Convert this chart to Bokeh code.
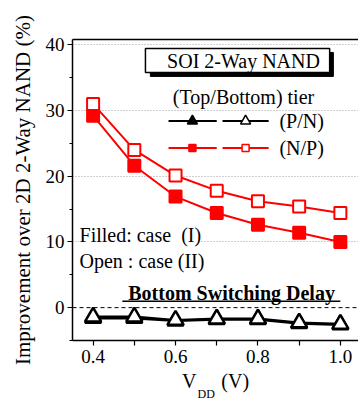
from bokeh.plotting import figure
from bokeh.models import (FixedTicker, Span, Label, LinearAxis, Range1d,
                          PrintfTickFormatter, Title)
from bokeh.embed import file_html
from bokeh.resources import INLINE

# ---- data ----
vdd = [0.4, 0.5, 0.6, 0.7, 0.8, 0.9, 1.0]
np_case1 = [29.2, 21.6, 16.9, 14.4, 12.6, 11.4, 10.0]   # (N/P) filled
np_case2 = [31.0, 24.0, 20.1, 17.8, 16.2, 15.4, 14.4]   # (N/P) open
pn_case1 = [-1.6, -1.6, -2.0, -1.8, -1.8, -2.4, -2.6]   # (P/N) filled
pn_case2 = [-1.4, -1.4, -1.9, -1.7, -1.7, -2.3, -2.5]   # (P/N) open
x_ticks = [0.4, 0.6, 0.8, 1.0]
x_minor = [0.5, 0.7, 0.9]
y_ticks = [0, 10, 20, 30, 40]
y_minor = [-5, 5, 15, 25, 35]

FONT = "Liberation Serif"
RED = "#ff0000"
NB = "\u00a0"

p = figure(width=358, height=401, output_backend="svg", toolbar_location=None,
           x_range=Range1d(0.35, 1.044), y_range=Range1d(-5, 40.8),
           min_border_left=72, min_border_right=0, min_border_top=39,
           min_border_bottom=61)
p.outline_line_color = None
p.background_fill_color = "white"
p.border_fill_color = "white"

# axes
for ax in (p.xaxis[0], p.yaxis[0]):
    ax.axis_line_color = "black"
    ax.axis_line_width = 1.5
    ax.major_tick_line_color = "black"
    ax.minor_tick_line_color = "black"
    ax.major_tick_line_width = 1.2
    ax.minor_tick_line_width = 1.2
    ax.major_tick_in = 0
    ax.minor_tick_in = 0
    ax.major_label_text_font = FONT
    ax.major_label_text_font_size = "19px"
    ax.major_label_text_color = "black"

p.xaxis.ticker = FixedTicker(ticks=x_ticks, minor_ticks=x_minor)
p.xaxis.formatter = PrintfTickFormatter(format="%.1f")
p.xaxis.major_tick_out = 5
p.xaxis.minor_tick_out = 5
p.xaxis.major_label_standoff = 4
p.xaxis.axis_label = "V" + NB * 5 + "(V)"
p.xaxis.axis_label_text_font = FONT
p.xaxis.axis_label_text_font_size = "20px"
p.xaxis.axis_label_text_font_style = "normal"
p.xaxis.axis_label_text_color = "black"
p.xaxis.axis_label_standoff = 4

p.yaxis.ticker = FixedTicker(ticks=y_ticks, minor_ticks=y_minor)
p.yaxis.major_tick_out = 5
p.yaxis.minor_tick_out = 3
p.yaxis.major_label_standoff = 3
p.yaxis.axis_label = "Improvement over 2D 2-Way NAND (%)"
p.yaxis.axis_label_text_font = FONT
p.yaxis.axis_label_text_font_size = "21px"
p.yaxis.axis_label_text_font_style = "normal"
p.yaxis.axis_label_text_color = "black"
p.yaxis.axis_label_standoff = 8

# subscript of V_DD
p.add_layout(Title(text="DD", align="left", offset=125, standoff=-16,
                   vertical_align="top", text_font=FONT,
                   text_font_size="12px", text_font_style="normal",
                   text_color="black"), "below")

# top frame line
top = LinearAxis(ticker=FixedTicker(ticks=[]), major_label_text_font_size="0px",
                 major_tick_out=0, minor_tick_out=0, axis_line_width=1.5)
p.add_layout(top, "above")

# grid
p.xgrid.grid_line_color = None
p.ygrid.ticker = FixedTicker(ticks=[10, 20, 30, 40])
p.ygrid.grid_line_color = "#a0a0a0"
p.ygrid.grid_line_dash = "1 2"
p.ygrid.grid_line_width = 1

p.add_layout(Span(location=0, dimension="width", line_color="black",
                  line_dash="4 3", line_width=1))

# series
p.line(vdd, pn_case1, line_color="black", line_width=2.5)
p.line(vdd, pn_case2, line_color="black", line_width=2.5)
p.scatter(vdd, pn_case1, marker="triangle", size=16, fill_color="black",
          line_color="black", line_width=2.5)
p.scatter(vdd, pn_case2, marker="triangle", size=16, fill_color="white",
          line_color="black", line_width=2.5)

p.line(vdd, np_case1, line_color=RED, line_width=2)
p.line(vdd, np_case2, line_color=RED, line_width=2)
p.scatter(vdd, np_case1, marker="square", size=12, fill_color=RED,
          line_color=RED, line_width=2)
p.scatter(vdd, np_case2, marker="square", size=12, fill_color="white",
          line_color=RED, line_width=2)

# title box with shadow
p.quad(left=[0.539], right=[0.983], top=[38.83], bottom=[35.18],
       fill_color="black", line_color="black")
p.quad(left=[0.527], right=[0.974], top=[39.43], bottom=[35.79],
       fill_color="white", line_color="black", line_width=1.5)
p.add_layout(Label(x=0.765, y=37.5, text="SOI 2-Way NAND", text_font=FONT,
                   text_font_size="20px", text_align="center",
                   text_baseline="middle", text_color="black"))

p.add_layout(Label(x=0.765, y=32.0, text="(Top/Bottom) tier", text_font=FONT,
                   text_font_size="20px", text_align="center",
                   text_baseline="middle", text_color="black"))

# legend rows
p.line([0.583, 0.700], [28.4, 28.4], line_color="black", line_width=2)
p.line([0.714, 0.826], [28.4, 28.4], line_color="black", line_width=2)
p.scatter([0.641], [28.4], marker="triangle", size=10, fill_color="black",
          line_color="black", line_width=1.5)
p.scatter([0.770], [28.4], marker="triangle", size=10, fill_color="white",
          line_color="black", line_width=1.5)
p.add_layout(Label(x=0.852, y=28.4, text="(P/N)", text_font=FONT,
                   text_font_size="20px", text_baseline="middle",
                   text_color="black"))

p.line([0.583, 0.700], [24.3, 24.3], line_color=RED, line_width=2)
p.line([0.714, 0.826], [24.3, 24.3], line_color=RED, line_width=2)
p.scatter([0.641], [24.3], marker="square", size=7, fill_color=RED,
          line_color=RED, line_width=1.5)
p.scatter([0.770], [24.3], marker="square", size=7, fill_color="white",
          line_color=RED, line_width=1.5)
p.add_layout(Label(x=0.852, y=24.3, text="(N/P)", text_font=FONT,
                   text_font_size="20px", text_baseline="middle",
                   text_color="black"))

# case notes
p.add_layout(Label(x=0.367, y=11.0, text="Filled: case" + NB + NB + "(I)",
                   text_font=FONT, text_font_size="20px",
                   text_baseline="middle", text_color="black",
                   background_fill_color="white"))
p.add_layout(Label(x=0.367, y=7.1, text="Open : case (II)", text_font=FONT,
                   text_font_size="20px", text_baseline="middle",
                   text_color="black", background_fill_color="white"))

# bottom switching delay
p.add_layout(Label(x=0.736, y=2.2, text="Bottom Switching Delay", text_font=FONT,
                   text_font_size="20px", text_font_style="bold",
                   text_align="center", text_baseline="middle",
                   text_color="black"))
p.line([0.471, 1.0], [0.96, 0.96], line_color="black", line_width=1.5)

open("out.html", "w").write(file_html(p, INLINE))
